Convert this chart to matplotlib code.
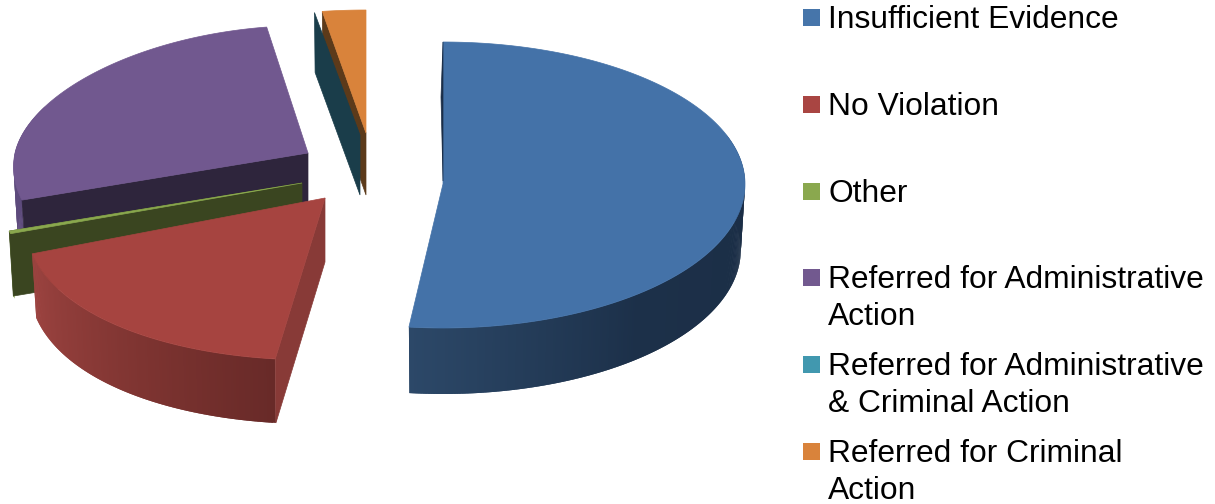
import numpy as np
import matplotlib
matplotlib.use('Agg')
import matplotlib.pyplot as plt
from matplotlib.collections import PolyCollection
from matplotlib.colors import to_rgb

plt.rcParams['font.family'] = ['Liberation Sans', 'DejaVu Sans']

# 항목 이름과 비율(%)
categories = ['Insufficient Evidence', 'No Violation', 'Other',
              'Referred for Administrative\nAction',
              'Referred for Administrative\n& Criminal Action',
              'Referred for Criminal\nAction']
values = [51.8, 17.6, 0.3, 27.8, 0.1, 2.4]
colors = ['#4472a8', '#a64440', '#8aa84e', '#71588f', '#4198af', '#d9833b']
legend_colors = ['#4675aa', '#a94542', '#8aa84e', '#72598f', '#4198af', '#d9833b']

# 3d look of each slice: apex, radii, perspective, shear, depth, side wall and rim colours
looks = [
    dict(cx=443, cy=184, rx=302, far=142, near=144, p=0.0, shear=0, depth=66, wall=None, wall_c=None,
         rim=['#1b2e46', '#1b2e46', '#1b2e46', '#1c3049', '#2c4868']),
    dict(cx=325, cy=198, rx=297, far=150, near=162, p=0.1, shear=13, depth=64, wall='start', wall_c='#883a37',
         rim=['#682a28', '#7a322f', '#8c3b38', '#9c4340']),
    dict(cx=302, cy=183, rx=300, far=140, near=147, p=0.1, shear=0, depth=65, wall='end', wall_c='#3a4520',
         rim=['#8aa84e', '#8aa84e']),
    dict(cx=308, cy=153, rx=293, far=127.5, near=144, p=0.1, shear=0, depth=65, wall='start', wall_c='#2e253c',
         rim=['#5d4a7c', '#5d4a7c']),
    dict(cx=360, cy=135, rx=291, far=124, near=124, p=0.0, shear=0, depth=60, wall='start', wall_c='#1a3d4a',
         rim=['#1a3d4a', '#1a3d4a'], top=False),
    dict(cx=366, cy=133, rx=291, far=123, near=123, p=0.0, shear=0, depth=62, wall='start', wall_c='#5c3a1a',
         rim=['#5c3a1a', '#5c3a1a']),
]
taper = 0.986


def project(s, t, bottom=False):
    t = np.radians(t)
    sn, cs = np.sin(t), np.cos(t)
    ry = np.where(cs > 0, s['far'], s['near'])
    dx = s['rx'] * sn * (1 - s['p'] * cs) + s['shear'] * cs
    y = s['cy'] - ry * cs
    if bottom:
        dx = dx * taper
        y = y + s['depth']
    return s['cx'] + dx, y


def draw_slice(ax, s, color, t0, t1):
    # outer rim as small quads so it can carry a gradient, each one overlaps the next
    edges = np.linspace(t0, t1, max(int((t1 - t0) * 2), 2) + 1)
    xt, yt = project(s, edges)
    xb, yb = project(s, edges, bottom=True)
    quads, cols = [], []
    stops = np.array([to_rgb(c) for c in s['rim']])
    pos = np.linspace(0, 1, len(stops))
    n = len(edges) - 1
    for i in range(n):
        if np.cos(np.radians(edges[i])) > 0.35:
            continue
        j = min(i + 2, n)
        quads.append([(xt[i], yt[i]), (xt[j], yt[j]), (xb[j], yb[j]), (xb[i], yb[i])])
        f = i / max(n - 1, 1)
        cols.append([np.interp(f, pos, stops[:, k]) for k in range(3)])
    if quads:
        ax.add_collection(PolyCollection(quads, facecolors=cols, edgecolors='none'))

    # flat wall between apex and rim
    if s['wall']:
        ta = t0 if s['wall'] == 'start' else t1
        x1, y1 = project(s, ta)
        x2, y2 = project(s, ta, bottom=True)
        wall = [(s['cx'], s['cy']), (x1, y1), (x2, y2), (s['cx'], s['cy'] + s['depth'])]
        ax.fill(*zip(*wall), color=s['wall_c'], lw=0.5)

    # top face
    if s.get('top', True):
        x, y = project(s, np.linspace(t0, t1, 200))
        ax.fill(np.r_[s['cx'], x], np.r_[s['cy'], y], color=color, lw=0.5)


fig = plt.figure(figsize=(12.15, 5.04), dpi=100)
ax = fig.add_axes([0, 0, 1, 1])
ax.set_xlim(0, 1215)
ax.set_ylim(504, 0)
ax.axis('off')

angles = np.cumsum([0] + values) * 3.6

# back to front
for i in [5, 4, 3, 2, 1, 0]:
    draw_slice(ax, looks[i], colors[i], angles[i], angles[i + 1])

# dark sliver on the far edge of the big slice
bs = looks[0]
xb0, yb0 = project(bs, 0.0)
ax.fill([xb0, xb0 - 2, bs['cx']], [yb0, yb0 + 55, bs['cy'] - 3], color='#1b2e48', lw=0.5)

# legend
for i, label in enumerate(categories):
    top = 9 + 86.8 * i
    ax.add_patch(plt.Rectangle((803, top), 17, 17, color=legend_colors[i], lw=0))
    for j, line in enumerate(label.split('\n')):
        ax.text(828, top + 19 + 37 * j, line, fontsize=22.9, color='black', va='baseline', ha='left')

fig.savefig('out.png', dpi=100)
